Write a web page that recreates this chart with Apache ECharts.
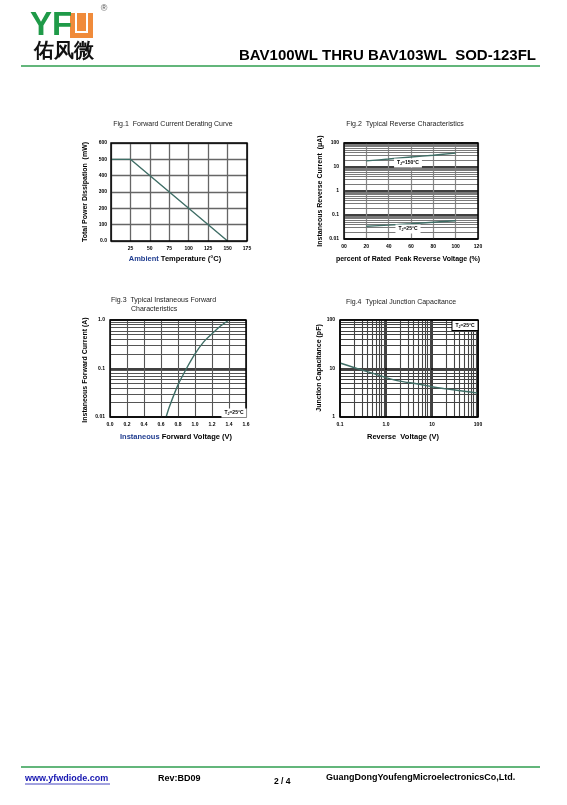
<!DOCTYPE html>
<html>
<head>
<meta charset="utf-8">
<script src="https://cdn.jsdelivr.net/npm/echarts@6/dist/echarts.min.js"></script>
<style>
    html, body { margin: 0; padding: 0; background: #fff; }
    #page { width: 567px; height: 805px; }
</style>
</head>
<body>
<div id="page"></div>
<script type="text/javascript">
    // Fig.1 derating curve
    var fig1Temp = [0, 25, 150];
    var fig1Power = [500, 500, 0];
    // Fig.2 reverse current vs % of rated voltage
    var fig2Pct = [20, 40, 60, 80, 100];
    var fig2Hot = [18, 21.5, 26, 31, 38];
    var fig2Room = [0.034, 0.038, 0.043, 0.05, 0.058];
    // Fig.3 forward current vs forward voltage
    var fig3Volt = [0.66, 0.7, 0.8, 0.9, 1.0, 1.1, 1.2, 1.3, 1.4];
    var fig3Amp = [0.01, 0.0165, 0.046, 0.1, 0.2, 0.35, 0.52, 0.75, 1.0];
    // Fig.4 junction capacitance vs reverse voltage
    var fig4Volt = [0.1, 0.2, 0.5, 1, 2, 5, 10, 20, 50, 100];
    var fig4Cap = [13, 10.5, 8, 6.5, 5.5, 4.8, 4.2, 3.8, 3.4, 3.1];
    var minorSteps = [2, 3, 4, 5, 6, 7, 8, 9];

    var FONT = '"Liberation Sans", Arial, sans-serif';
    var CURVE = '#3f6e66';
    var box = [
        {left: 111, top: 143, width: 136, height: 98},
        {left: 344, top: 143, width: 134, height: 96},
        {left: 110, top: 320, width: 136, height: 97},
        {left: 340, top: 320, width: 138, height: 97}
    ];

    function pairs(xs, ys) {
        return xs.map(function (x, i) { return [x, ys[i]]; });
    }
    function minors(lo, hi, axis) {
        var out = [];
        for (var d = lo; d < hi * 0.999; d *= 10) {
            minorSteps.forEach(function (m) {
                var o = {};
                o[axis] = +(d * m).toPrecision(3);
                out.push(o);
            });
        }
        return out;
    }
    function logFmt(v) {
        return v >= 1 ? String(Math.round(v)) : String(+v.toPrecision(1));
    }
    function lbl(fmt, margin) {
        return {fontSize: 5, fontWeight: 'bold', color: '#000', fontFamily: FONT, margin: margin || 3, formatter: fmt};
    }
    function split(color, width) {
        return {show: true, lineStyle: {color: color, width: width}};
    }
    function gridLines(idx, lines, color, width) {
        return {
            type: 'line', xAxisIndex: idx, yAxisIndex: idx, data: [], z: 1, silent: true,
            markLine: {
                silent: true, symbol: ['none', 'none'], animation: false,
                label: {show: false},
                lineStyle: {color: color, width: width || 1, type: 'solid'},
                data: lines
            }
        };
    }
    function curve(idx, data) {
        return {
            type: 'line', xAxisIndex: idx, yAxisIndex: idx, data: data, z: 5,
            smooth: 0.3, showSymbol: false, animation: false,
            lineStyle: {color: CURVE, width: 1.4}
        };
    }
    function txt(x, y, s, size, opts) {
        opts = opts || {};
        return {
            type: 'text', x: x, y: y, rotation: opts.rot || 0, z: 120,
            style: {
                text: s, fill: opts.color || '#000', fontSize: size, fontFamily: FONT,
                fontWeight: opts.weight || 'bold', textAlign: opts.align || 'center',
                textVerticalAlign: 'middle', rich: opts.rich
            }
        };
    }
    var tjRich = {
        a: {fontSize: 5, fontWeight: 'bold', fontFamily: FONT, fill: '#000'},
        b: {fontSize: 3.5, fontWeight: 'bold', fontFamily: FONT, fill: '#000', padding: [3, 0, 0, 0]}
    };
    function tj(x, y, s, framed) {
        var t = txt(x, y, '{a|T}{b|J}{a|' + s + '}', 5, {rich: tjRich});
        t.style.backgroundColor = '#fff';
        t.style.padding = [1, 3, 1, 3];
        if (framed) {
            t.style.borderColor = '#000';
            t.style.borderWidth = 1;
        }
        return t;
    }
    var blueWord = {b: {fill: '#1f3c8f', fontSize: 7.5, fontWeight: 'bold', fontFamily: FONT}};

    var graphics = [
        // logo
        txt(30, 26, 'YF', 33, {align: 'left', color: '#1f9a48'}),
        {type: 'rect', shape: {x: 70, y: 13, width: 23, height: 25}, style: {fill: '#f08b3b'}, z: 110},
        {type: 'rect', shape: {x: 75, y: 13, width: 2, height: 20}, style: {fill: '#fff'}, z: 111},
        {type: 'rect', shape: {x: 86, y: 13, width: 2, height: 20}, style: {fill: '#fff'}, z: 111},
        {type: 'rect', shape: {x: 75, y: 31, width: 13, height: 2}, style: {fill: '#fff'}, z: 111},
        txt(104, 9, '\u00ae', 9, {weight: 'normal', color: '#555'}),
        txt(34, 51, '佑风微', 20, {align: 'left', color: '#111'}),
        txt(536, 56, 'BAV100WL THRU BAV103WL  SOD-123FL', 15, {align: 'right'}),
        {type: 'line', shape: {x1: 21, y1: 66, x2: 540, y2: 66}, style: {stroke: '#2f9e4f', lineWidth: 1.5}, z: 110},
        // footer
        {type: 'line', shape: {x1: 21, y1: 767, x2: 540, y2: 767}, style: {stroke: '#2f9e4f', lineWidth: 1.5}, z: 110},
        txt(25, 779, 'www.yfwdiode.com', 9, {align: 'left', color: '#1515b0'}),
        {type: 'line', shape: {x1: 25, y1: 784, x2: 110, y2: 784}, style: {stroke: '#1515b0', lineWidth: 0.8}, z: 110},
        txt(158, 779, 'Rev:BD09', 9, {align: 'left'}),
        txt(274, 782, '2 / 4', 8.5, {align: 'left'}),
        txt(326, 778, 'GuangDongYoufengMicroelectronicsCo,Ltd.', 9, {align: 'left'}),
        // fig 1
        txt(173, 124, 'Fig.1  Forward Current Derating Curve', 7, {weight: 'normal', color: '#222'}),
        txt(85, 192, 'Total Power Dissipation  (mW)', 7, {rot: Math.PI / 2}),
        txt(175, 259, '{b|Ambient} Temperature (\u00b0C)', 7.5, {rich: blueWord}),
        // fig 2
        txt(405, 124, 'Fig.2  Typical Reverse Characteristics', 7, {weight: 'normal', color: '#222'}),
        txt(320, 191, 'Instaneous Reverse Current  (\u03bcA)', 7, {rot: Math.PI / 2}),
        txt(408, 259, 'percent of Rated  Peak Reverse Voltage (%)', 7),
        tj(408, 163, '=150\u00b0C', false),
        tj(408, 229, '=25\u00b0C', false),
        // fig 3
        txt(111, 300, 'Fig.3  Typical Instaneous Forward', 7, {align: 'left', weight: 'normal', color: '#222'}),
        txt(131, 309, 'Characteristics', 7, {align: 'left', weight: 'normal', color: '#222'}),
        txt(85, 370, 'Instaneous Forward Current (A)', 7, {rot: Math.PI / 2}),
        txt(176, 437, '{b|Instaneous} Forward Voltage (V)', 7.5, {rich: blueWord}),
        tj(234, 413, '=25\u00b0C', false),
        // fig 4
        txt(401, 302, 'Fig.4  Typical Junction Capacitance', 7, {weight: 'normal', color: '#222'}),
        txt(319, 368, 'Junction Capacitance (pF)', 7, {rot: Math.PI / 2}),
        txt(403, 437, 'Reverse  Voltage (V)', 7.5),
        tj(465, 325.5, '=25\u00b0C', true)
    ];
    box.forEach(function (b) {
        graphics.push({
            type: 'rect', z: 100, silent: true,
            shape: {x: b.left, y: b.top, width: b.width, height: b.height},
            style: {fill: 'none', stroke: '#000', lineWidth: 1.5}
        });
    });

    function noAxisLine() {
        return {show: false};
    }

    var option = {
        backgroundColor: '#fff',
        animation: false,
        grid: box,
        xAxis: [
            {gridIndex: 0, type: 'value', min: 0, max: 175, interval: 25,
                axisLine: noAxisLine(), axisTick: {show: false},
                axisLabel: lbl(function (v) { return v === 0 ? '' : String(v); }, 5),
                splitLine: split('#666', 1.3)},
            {gridIndex: 1, type: 'value', min: 0, max: 120, interval: 20,
                axisLine: noAxisLine(), axisTick: {show: false},
                axisLabel: lbl(function (v) { return v === 0 ? '00' : String(v); }, 5),
                splitLine: split('#888', 1.2)},
            {gridIndex: 2, type: 'value', min: 0, max: 1.6, interval: 0.2,
                axisLine: noAxisLine(), axisTick: {show: false},
                axisLabel: lbl(function (v) { return v.toFixed(1); }, 5),
                splitLine: split('#555', 1.1)},
            {gridIndex: 3, type: 'log', logBase: 10, min: 0.1, max: 100,
                axisLine: noAxisLine(), axisTick: {show: false},
                axisLabel: lbl(function (v) { return Math.round(v) === 1 ? '1.0' : logFmt(v); }, 5),
                splitLine: split('#000', 1.5)}
        ],
        yAxis: [
            {gridIndex: 0, type: 'value', min: 0, max: 600, interval: 100,
                axisLine: noAxisLine(), axisTick: {show: false},
                axisLabel: lbl(function (v) { return v === 0 ? '0.0' : String(v); }, 4),
                splitLine: split('#666', 1.3)},
            {gridIndex: 1, type: 'log', logBase: 10, min: 0.01, max: 100,
                axisLine: noAxisLine(), axisTick: {show: false},
                axisLabel: lbl(logFmt, 5),
                splitLine: split('#000', 1.6)},
            {gridIndex: 2, type: 'log', logBase: 10, min: 0.01, max: 1,
                axisLine: noAxisLine(), axisTick: {show: false},
                axisLabel: lbl(function (v) { return Math.round(v) === 1 ? '1.0' : logFmt(v); }, 5),
                splitLine: split('#000', 1.5)},
            {gridIndex: 3, type: 'log', logBase: 10, min: 1, max: 100,
                axisLine: noAxisLine(), axisTick: {show: false},
                axisLabel: lbl(logFmt, 5),
                splitLine: split('#000', 1.5)}
        ],
        series: [
            curve(0, pairs(fig1Temp, fig1Power)),
            gridLines(1, minors(0.01, 100, 'yAxis'), '#7a7a7a', 1),
            curve(1, pairs(fig2Pct, fig2Hot)),
            curve(1, pairs(fig2Pct, fig2Room)),
            gridLines(2, minors(0.01, 1, 'yAxis'), '#555', 1.1),
            curve(2, pairs(fig3Volt, fig3Amp)),
            gridLines(3, minors(1, 100, 'yAxis').concat(minors(0.1, 100, 'xAxis')), '#444', 1.1),
            curve(3, pairs(fig4Volt, fig4Cap))
        ],
        graphic: graphics
    };
    option.series[0].smooth = false;

    var myChart = echarts.init(document.getElementById('page'));
    myChart.setOption(option);
</script>
</body>
</html>
